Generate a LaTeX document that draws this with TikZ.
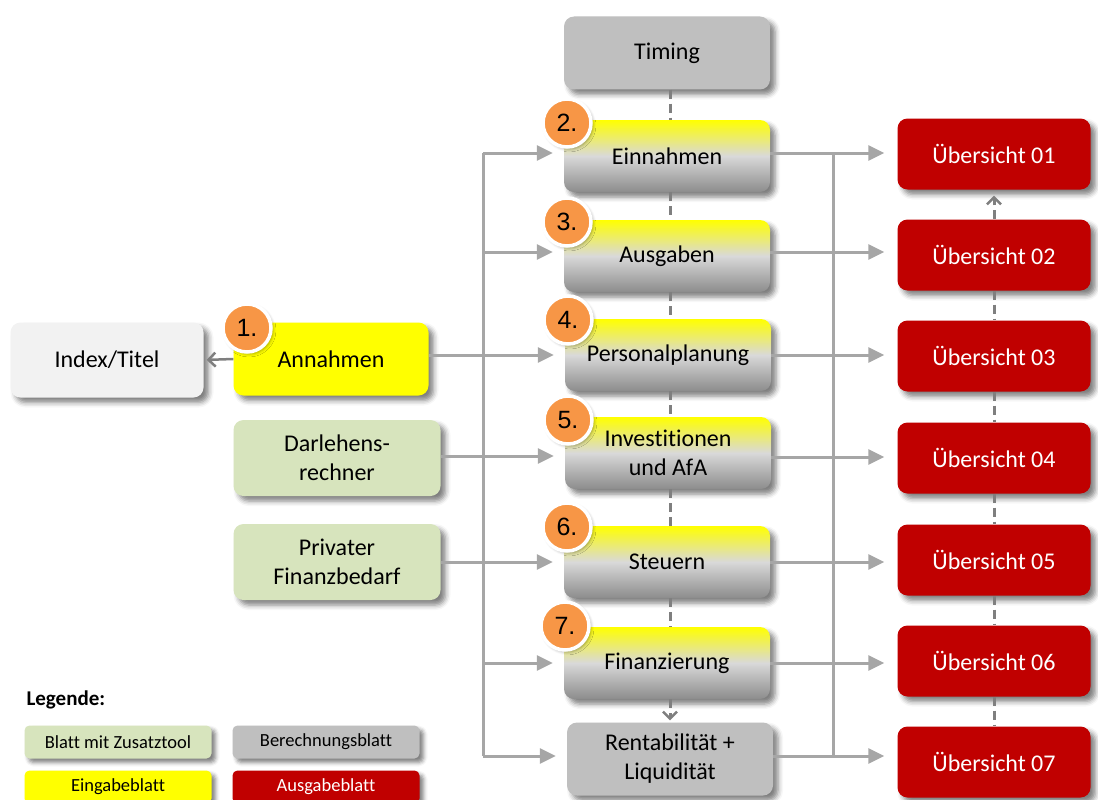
\documentclass[tikz,border=0pt]{standalone}
\usepackage{fontspec}
\setmainfont[Ligatures={NoCommon}]{Carlito}
\newfontfamily\badgefont{Liberation Sans}
\usetikzlibrary{arrows.meta,shadows.blur,calc}
\definecolor{ylw}{HTML}{FFFF00}
\definecolor{lgray}{HTML}{BFBFBF}
\definecolor{idxcol}{HTML}{F2F2F2}
\definecolor{grn}{HTML}{D7E4BD}
\definecolor{redbox}{HTML}{C00000}
\definecolor{orng}{HTML}{F79646}
\definecolor{conncol}{HTML}{A6A6A6}
\definecolor{dashcol}{HTML}{7F7F7F}
\begin{document}
\begin{tikzpicture}[x=1pt,y=-1pt,
  base/.style={rounded corners=10pt, align=center, inner sep=2pt,
    font=\fontsize{24}{29}\selectfont,
    blur shadow={shadow xshift=5pt, shadow yshift=-5pt, shadow blur radius=5pt, shadow opacity=50}},
  midbox/.style={base, minimum width=206pt, minimum height=72pt,
    top color=ylw, bottom color=gray!90, middle color=gray!30},
  graybox/.style={base, fill=lgray, minimum width=206pt, minimum height=73pt},
  ubox/.style={base, fill=redbox, text=white, minimum width=193pt, minimum height=71pt},
  greenbox/.style={base, fill=grn, minimum width=207pt, minimum height=76pt},
  legbox/.style={rounded corners=5pt, align=center, inner sep=1pt,
    minimum width=187pt, minimum height=33pt, font=\fontsize{18.5}{22}\selectfont,
    blur shadow={shadow xshift=4pt, shadow yshift=-4pt, shadow blur radius=4pt, shadow opacity=50}},
  badge/.style={circle, fill=orng, draw=white, line width=3.5pt, minimum size=48pt, inner sep=0pt,
    font=\badgefont\fontsize{25}{25}\selectfont,
    blur shadow={shadow xshift=2pt, shadow yshift=-2pt, shadow blur radius=3pt, shadow opacity=35}},
  conn/.style={draw=conncol, line width=3pt, -{Triangle[length=16pt,width=15pt]}, shorten >=11pt},
  connr/.style={draw=conncol, line width=3pt, -{Triangle[length=16pt,width=15pt]}, shorten >=13pt},
  bus/.style={draw=conncol, line width=3pt},
  dsh/.style={draw=dashcol, line width=3pt, dash pattern=on 9pt off 5pt},
  barb/.style={-{Straight Barb[length=7pt,width=14pt,line width=2.5pt]}}
]
\useasboundingbox (0,0) rectangle (1098,800);

% middle column
\node[graybox] (tim) at (667,53) {Timing};
\node[midbox] (ein) at (667,156) {Einnahmen};
\node[midbox] (aus) at (667,256) {Ausgaben};
\node[midbox] (pers) at (668,355) {Personalplanung};
\node[midbox] (inv) at (668,453) {Investitionen\\und AfA};
\node[midbox] (steu) at (667,562) {Steuern};
\node[midbox] (fin) at (667,663) {Finanzierung};
\node[graybox] (rent) at (670,759) {Rentabilität +\\Liquidität};

% left column
\node[base, fill=idxcol, minimum width=193pt, minimum height=75pt] (idx) at (107,360) {Index/Titel};
\node[base, fill=ylw, minimum width=195pt, minimum height=73pt] (ann) at (331,359) {Annahmen};
\node[greenbox] (darl) at (337,458) {Darlehens-\\rechner};
\node[greenbox] (priv) at (337,562) {Privater\\Finanzbedarf};

% right column
\node[ubox] (u1) at (994,154) {Übersicht 01};
\node[ubox] (u2) at (994,255) {Übersicht 02};
\node[ubox] (u3) at (994,356) {Übersicht 03};
\node[ubox] (u4) at (994,458) {Übersicht 04};
\node[ubox] (u5) at (994,560) {Übersicht 05};
\node[ubox] (u6) at (994,661) {Übersicht 06};
\node[ubox] (u7) at (994,762) {Übersicht 07};

% badges
\node[badge] (b1) at (247,328) {1.};
\node[badge] (b2) at (567,123) {2.};
\node[badge] (b3) at (567,222) {3.};
\node[badge] (b4) at (568,320) {4.};
\node[badge] (b5) at (568,420) {5.};
\node[badge] (b6) at (567,527) {6.};
\node[badge] (b7) at (565,626) {7.};

% legend
\node[anchor=west, font=\bfseries\fontsize{21}{25}\selectfont] (leg) at (23,700) {Legende:};
\node[legbox, fill=grn] (l1) at (118,742) {Blatt mit Zusatztool};
\node[legbox, fill=lgray] (l2) at (326,742) {Berechnungsblatt};
\node[legbox, fill=ylw] (l3) at (118,787) {Eingabeblatt};
\node[legbox, fill=redbox, text=white] (l4) at (326,787) {Ausgabeblatt};

% connectors left
\coordinate (bl) at (483,0);
\coordinate (br) at (833,0);
\draw[bus] ($(bl |- ein.west)+(0,-3)$) -- ($(bl |- rent.west)+(0,-3)$);
\draw[conn] ($(bl |- ein.west)+(0,-3)$) -- ($(ein.west)+(0,-3)$);
\draw[conn] ($(bl |- aus.west)+(0,-4)$) -- ($(aus.west)+(0,-4)$);
\draw[conn] ($(bl |- fin.west)+(0,0)$) -- (fin.west);
\draw[conn] ($(bl |- rent.west)+(0,-3)$) -- ($(rent.west)+(0,-3)$);
\draw[conn] (ann.east |- pers.west) -- (pers.west);
\draw[conn] ($(darl.east)+(0,-2)$) -- ($(darl.east -| inv.west)+(0,-2)$);
\draw[conn] (priv.east) -- (priv.east -| steu.west);
\draw[draw=dashcol, line width=2.5pt, barb, shorten >=3pt] (ann.west) -- (idx.east);

% connectors right
\draw[bus] ($(br |- ein.east)+(0,-3)$) -- ($(br |- rent.east)+(0,-3)$);
\draw[connr] ($(ein.east)+(0,-3)$) -- ($(ein.east -| u1.west)+(0,-3)$);
\draw[connr] ($(aus.east)+(0,-4)$) -- ($(aus.east -| u2.west)+(0,-4)$);
\draw[connr] (pers.east) -- (pers.east -| u3.west);
\draw[connr] ($(inv.east)+(0,4)$) -- ($(inv.east -| u4.west)+(0,4)$);
\draw[connr] (steu.east) -- (steu.east -| u5.west);
\draw[connr] (fin.east) -- (fin.east -| u6.west);
\draw[connr] ($(rent.east)+(0,-3)$) -- ($(rent.east -| u7.west)+(0,-3)$);

% dashed middle
\draw[dsh] ($(tim.south)+(3,0)$) -- ($(ein.north)+(3,0)$);
\draw[dsh] ($(ein.south)+(3,0)$) -- ($(aus.north)+(3,0)$);
\draw[dsh] ($(aus.south)+(3,0)$) -- ($(pers.north)+(2,0)$);
\draw[dsh] ($(pers.south)+(2,0)$) -- ($(inv.north)+(2,0)$);
\draw[dsh] ($(inv.south)+(2,0)$) -- ($(steu.north)+(3,0)$);
\draw[dsh] ($(steu.south)+(3,0)$) -- ($(fin.north)+(3,0)$);
\draw[dsh, barb, shorten >=2pt] ($(fin.south)+(3,0)$) -- ($(fin.south |- rent.north)+(3,0)$);

% dashed right
\draw[dsh, barb, shorten >=6pt] (u2.north) -- (u1.south);
\draw[dsh] (u2.south) -- (u3.north);
\draw[dsh] (u3.south) -- (u4.north);
\draw[dsh] (u4.south) -- (u5.north);
\draw[dsh] (u5.south) -- (u6.north);
\draw[dsh] (u6.south) -- (u7.north);
\end{tikzpicture}
\end{document}
